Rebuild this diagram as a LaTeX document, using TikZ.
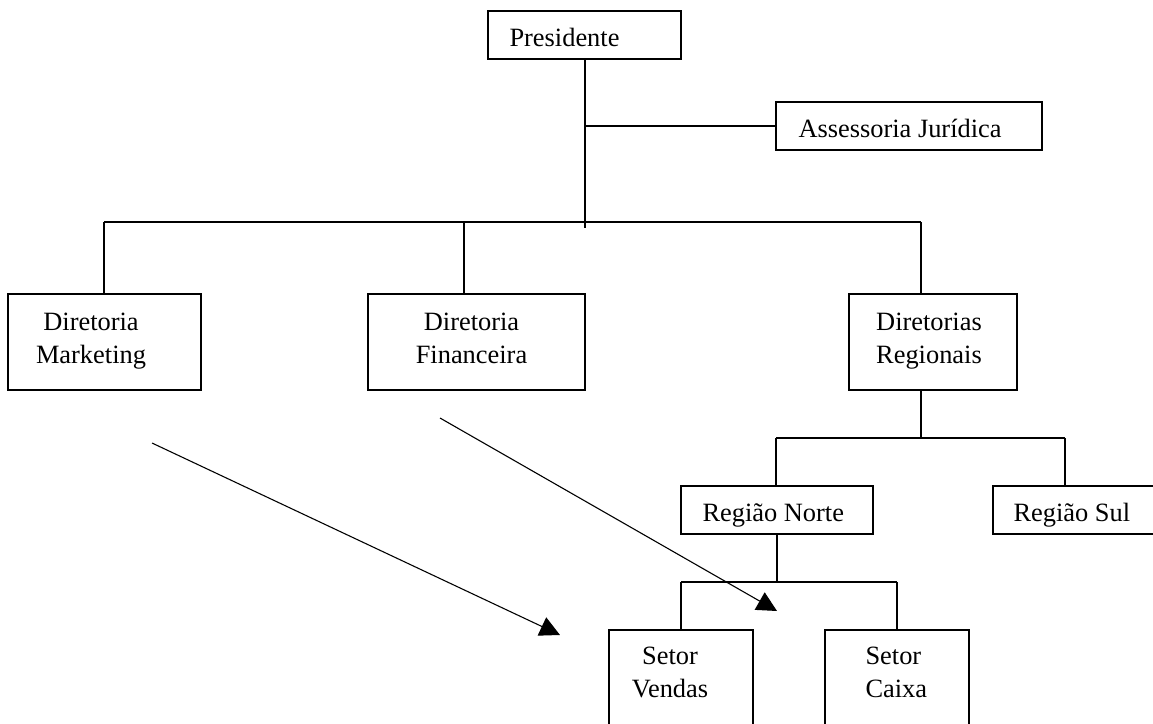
\documentclass[tikz,border=0pt]{standalone}
\usepackage{fontspec}
\setmainfont{Liberation Serif}
\usetikzlibrary{arrows.meta}
\begin{document}
\begin{tikzpicture}[x=1pt,y=-1pt,line width=1pt,
  box/.style={draw,line width=1.2pt,rectangle,inner sep=0pt},
  txt/.style={inner sep=0pt,font=\fontsize{26.4}{32.4}\selectfont},
  conn/.style={draw,line width=1.2pt},
  arr/.style={draw,line width=1.1pt,-{Triangle[length=20pt,width=20pt]}}]
\useasboundingbox (0,0) rectangle (1153,723);
\clip (0,0) rectangle (1153,723);
% boxes
\node[box,minimum width=193pt,minimum height=48pt] (pres) at (584.5,35) {};
\node[box,minimum width=266pt,minimum height=48pt] (ass) at (909,126) {};
\node[box,minimum width=193pt,minimum height=96pt] (mkt) at (104.5,342) {};
\node[box,minimum width=217pt,minimum height=96pt] (fin) at (476.5,342) {};
\node[box,minimum width=168pt,minimum height=96pt] (reg) at (933,342) {};
\node[box,minimum width=192pt,minimum height=48pt] (norte) at (777,510) {};
\node[box,minimum width=172pt,minimum height=48pt] (sul) at (1079,510) {};
\node[box,minimum width=144pt,minimum height=130pt] (vendas) at (681,695) {};
\node[box,minimum width=144pt,minimum height=130pt] (caixa) at (897,695) {};
% texts (multi-line nodes: base anchor is on the last line)
\node[txt,anchor=base west] (tpres) at (509,46) {Presidente};
\node[txt,anchor=base west] (tass) at (798,137) {Assessoria Jurídica};
\node[txt,anchor=base,align=center] (tmkt) at (91,363) {Diretoria\\Marketing};
\node[txt,anchor=base,align=center] (tfin) at (471.5,363) {Diretoria\\Financeira};
\node[txt,anchor=base,align=center] (treg) at (929,363) {Diretorias\\Regionais};
\node[txt,anchor=base west] (tnorte) at (702,521) {Região Norte};
\node[txt,anchor=base west] (tsul) at (1013,521) {Região Sul};
\node[txt,anchor=base,align=center] (tvendas) at (670,697) {Setor\\Vendas};
\node[txt,anchor=base west,align=left] (tcaixa) at (865,697) {Setor\\Caixa};
% connectors
\coordinate (hub) at (585,228);
\coordinate (busL) at (104,222);
\coordinate (busF) at (464,222);
\coordinate (busR) at (921,222);
\coordinate (rbusL) at (776,438);
\coordinate (rbusR) at (1065,438);
\coordinate (nbusL) at (681,582);
\coordinate (nbusR) at (897,582);
\draw[conn] (hub |- pres.south) -- (hub);
\draw[conn] (hub |- ass.west) -- (ass.west);
\draw[conn] (busL) -- (busR);
\draw[conn] (busL) -- (busL |- mkt.north);
\draw[conn] (busF) -- (busF |- fin.north);
\draw[conn] (busR) -- (busR |- reg.north);
\draw[conn] (busR |- reg.south) -- (busR |- rbusL);
\draw[conn] (rbusL) -- (rbusR);
\draw[conn] (rbusL) -- (rbusL |- norte.north);
\draw[conn] (rbusR) -- (rbusR |- sul.north);
\draw[conn] (norte.south) -- (norte.south |- nbusL);
\draw[conn] (nbusL) -- (nbusR);
\draw[conn] (nbusL) -- (nbusL |- vendas.north);
\draw[conn] (nbusR) -- (nbusR |- caixa.north);
% arrows
\coordinate (a1s) at (152,443);
\coordinate (a1e) at (560,635);
\coordinate (a2s) at (440,418);
\coordinate (a2e) at (777,611);
\draw[arr] (a1s) -- (a1e);
\draw[arr] (a2s) -- (a2e);
\end{tikzpicture}
\end{document}
